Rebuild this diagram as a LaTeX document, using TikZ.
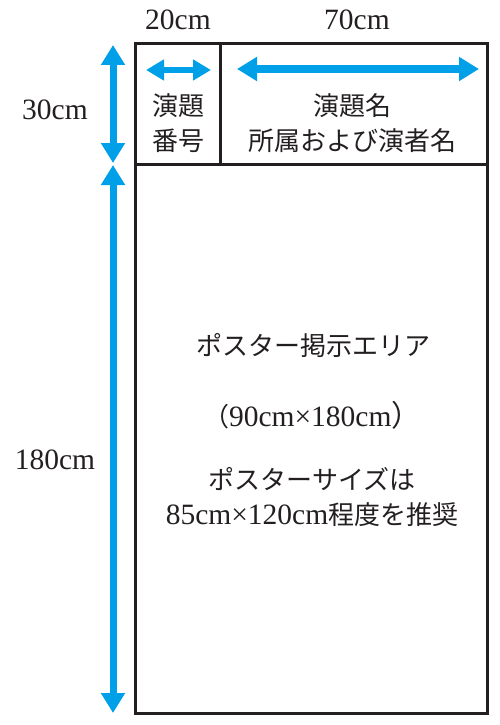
\documentclass[tikz,border=0pt]{standalone}
\usepackage{fontspec}
\setmainfont{Liberation Serif}
\newfontfamily\jp{Noto Sans CJK JP}
\usetikzlibrary{arrows.meta}

\definecolor{dimblue}{RGB}{0,160,233}
\definecolor{ink}{RGB}{35,31,32}

\newcommand{\lat}{\fontsize{29.5}{35}\selectfont\rmfamily}

\tikzset{
  frame/.style={ink, line width=3pt},
  bigdim/.style={dimblue, line width=7pt, {Triangle[length=20pt,width=23pt]}-{Triangle[length=20pt,width=23pt]}},
  smalldim/.style={dimblue, line width=6pt, {Triangle[length=18pt,width=20pt]}-{Triangle[length=18pt,width=20pt]}},
  txt/.style={text=ink, inner sep=0pt, align=center, font=\fontsize{26}{35}\selectfont}
}

\begin{document}
\begin{tikzpicture}[x=1pt,y=-1pt]
    \useasboundingbox (0,0) rectangle (500,725);

    \coordinate (nw) at (135,44);
    \coordinate (se) at (487,713);
    \coordinate (hw) at (135,164);
    \coordinate (he) at (487,164);
    \coordinate (dt) at (220,44);
    \coordinate (db) at (220,164);

    \draw[frame] (nw) rectangle (se);
    \draw[frame] (hw) -- (he);
    \draw[frame] (dt) -- (db);

    \coordinate (vtop) at (113,45);
    \coordinate (vmida) at (113,163);
    \coordinate (vmidb) at (113,165);
    \coordinate (vbot) at (113,713);
    \draw[bigdim] (vtop) -- (vmida);
    \draw[bigdim] (vmidb) -- (vbot);

    \coordinate (na) at (146,70);
    \coordinate (nb) at (211,70);
    \draw[smalldim] (na) -- (nb);
    \coordinate (ta) at (237,69);
    \coordinate (tb) at (479,69);
    \draw[bigdim] (ta) -- (tb);

    \node[txt] (w20) at (178,20) {\lat 20cm};
    \node[txt] (w70) at (357,20) {\lat 70cm};
    \node[txt] (h30) at (55,110) {\lat 30cm};
    \node[txt] (h180) at (55,460) {\lat 180cm};

    \node[txt] (num) at (178,123) {\jp 演題\\\jp 番号};
    \node[txt] (title) at (352,123) {\jp 演題名\\\jp 所属および演者名};

    \node[txt] (area) at (313,345) {\jp ポスター掲示エリア};
    \node[txt] (size) at (312,415) {\jp （\lat 90cm×180cm\jp ）};
    \node[txt] (rec) at (312,497) {\jp ポスターサイズは\\\lat 85cm×120cm\fontsize{26}{35}\selectfont\jp 程度を推奨};
\end{tikzpicture}
\end{document}
